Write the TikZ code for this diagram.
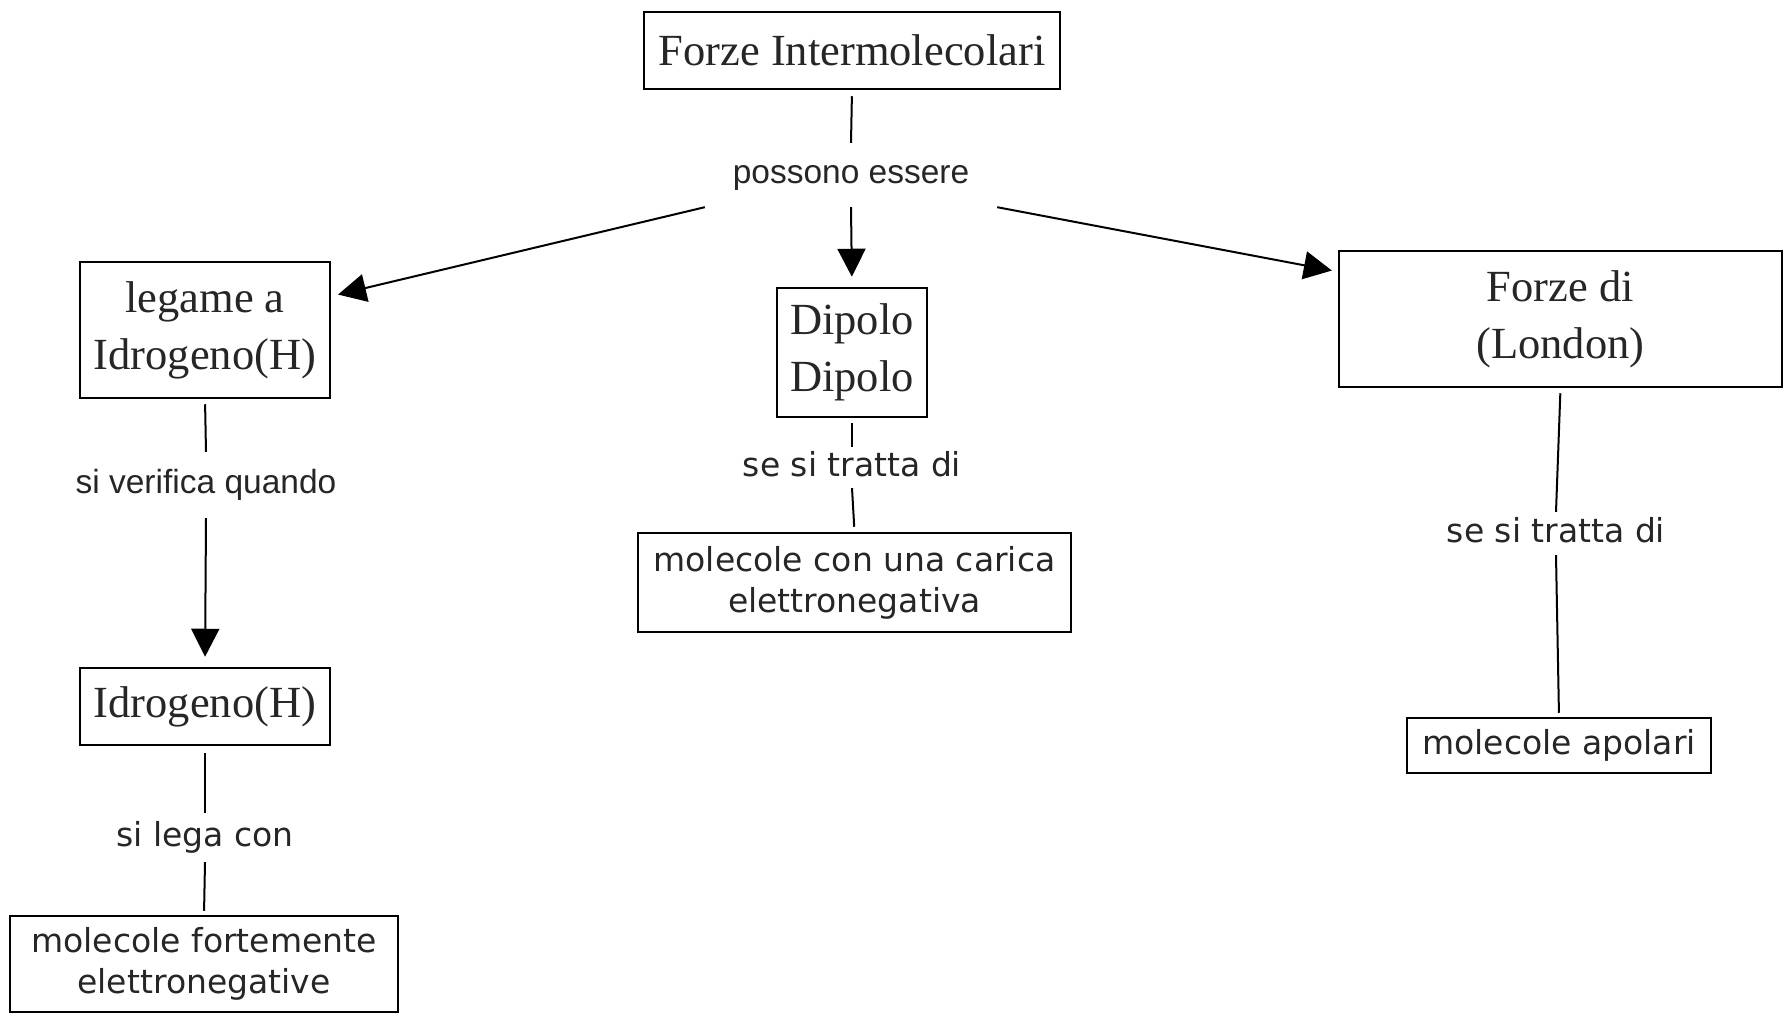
\documentclass[tikz,border=0pt]{standalone}
\usepackage{fontspec}
\setmainfont{Liberation Serif}
\newfontfamily\dvsans{DejaVu Sans}
\newfontfamily\arsans{Liberation Sans}
\usetikzlibrary{arrows.meta}
\begin{document}
\begin{tikzpicture}[x=1pt,y=-1pt,
  box/.style={draw, line width=2.5pt, inner sep=0pt, align=center, text=black!85},
  serifbox/.style={box, font=\fontsize{44.5}{57}\selectfont},
  sansbox/.style={box, font=\dvsans\fontsize{33}{41}\selectfont},
  lab/.style={inner sep=0pt, text height=25pt, text depth=8pt, text=black!85},
  arlab/.style={lab, font=\arsans\fontsize{33.5}{40}\selectfont},
  dvlab/.style={lab, font=\dvsans\fontsize{33}{40}\selectfont},
  conn/.style={line width=2pt},
  arr/.style={conn, -{Triangle[length=28pt,width=28pt]}}]
\useasboundingbox (0,0) rectangle (1783,1014);
% boxes
\node[serifbox, minimum width=416pt, minimum height=77pt] (top) at (852,50.5) {Forze Intermolecolari};
\node[serifbox, minimum width=250pt, minimum height=136pt] (leg) at (205,330) {legame a\\Idrogeno(H)};
\node[serifbox, minimum width=150pt, minimum height=129pt] (dip) at (852,352.5) {Dipolo\\Dipolo};
\node[serifbox, minimum width=443pt, minimum height=136pt] (lon) at (1560.5,319) {Forze di\\(London)};
\node[serifbox, minimum width=250pt, minimum height=77pt] (idr) at (205,706.5) {Idrogeno(H)};
\node[sansbox, minimum width=388pt, minimum height=96pt] (mfe) at (204,964) {molecole fortemente\\elettronegative};
\node[sansbox, minimum width=433pt, minimum height=99pt] (mce) at (854.5,582.5) {molecole con una carica\\elettronegativa};
\node[sansbox, minimum width=304pt, minimum height=55pt] (map) at (1559,745.5) {molecole apolari};
% linking phrases
\node[arlab, minimum width=292pt, minimum height=64pt] (pos) at (851,175) {possono essere};
\node[arlab, minimum height=66pt] (ver) at (206,485) {si verifica quando};
\node[dvlab, minimum height=49pt] (lcon) at (205,837.5) {si lega con};
\node[dvlab, minimum height=41pt] (st1) at (852,467.5) {se si tratta di};
\node[dvlab, minimum height=43pt] (st2) at (1556,533.5) {se si tratta di};
% connectors
\draw[conn, shorten <=6pt] (top.south) -- (pos.north);
\draw[arr, shorten >=10pt] (pos.south) -- (dip.north);
\draw[arr, shorten >=7pt] (pos.south west) -- (leg.15);
\draw[arr, shorten >=6pt] (pos.south east) -- (lon.168);
\draw[conn, shorten <=5pt] (leg.south) -- (ver.north);
\draw[arr, shorten >=10pt] (ver.south) -- (idr.north);
\draw[conn, shorten <=7pt] (idr.south) -- (lcon.north);
\draw[conn, shorten >=4pt] (lcon.south) -- (mfe.north);
\draw[conn, shorten <=5pt] (dip.south) -- (st1.north);
\draw[conn, shorten >=5pt] (st1.south) -- (mce.north);
\draw[conn, shorten <=5pt] (lon.south) -- (st2.north);
\draw[conn, shorten >=4pt] (st2.south) -- (map.north);
\end{tikzpicture}
\end{document}
